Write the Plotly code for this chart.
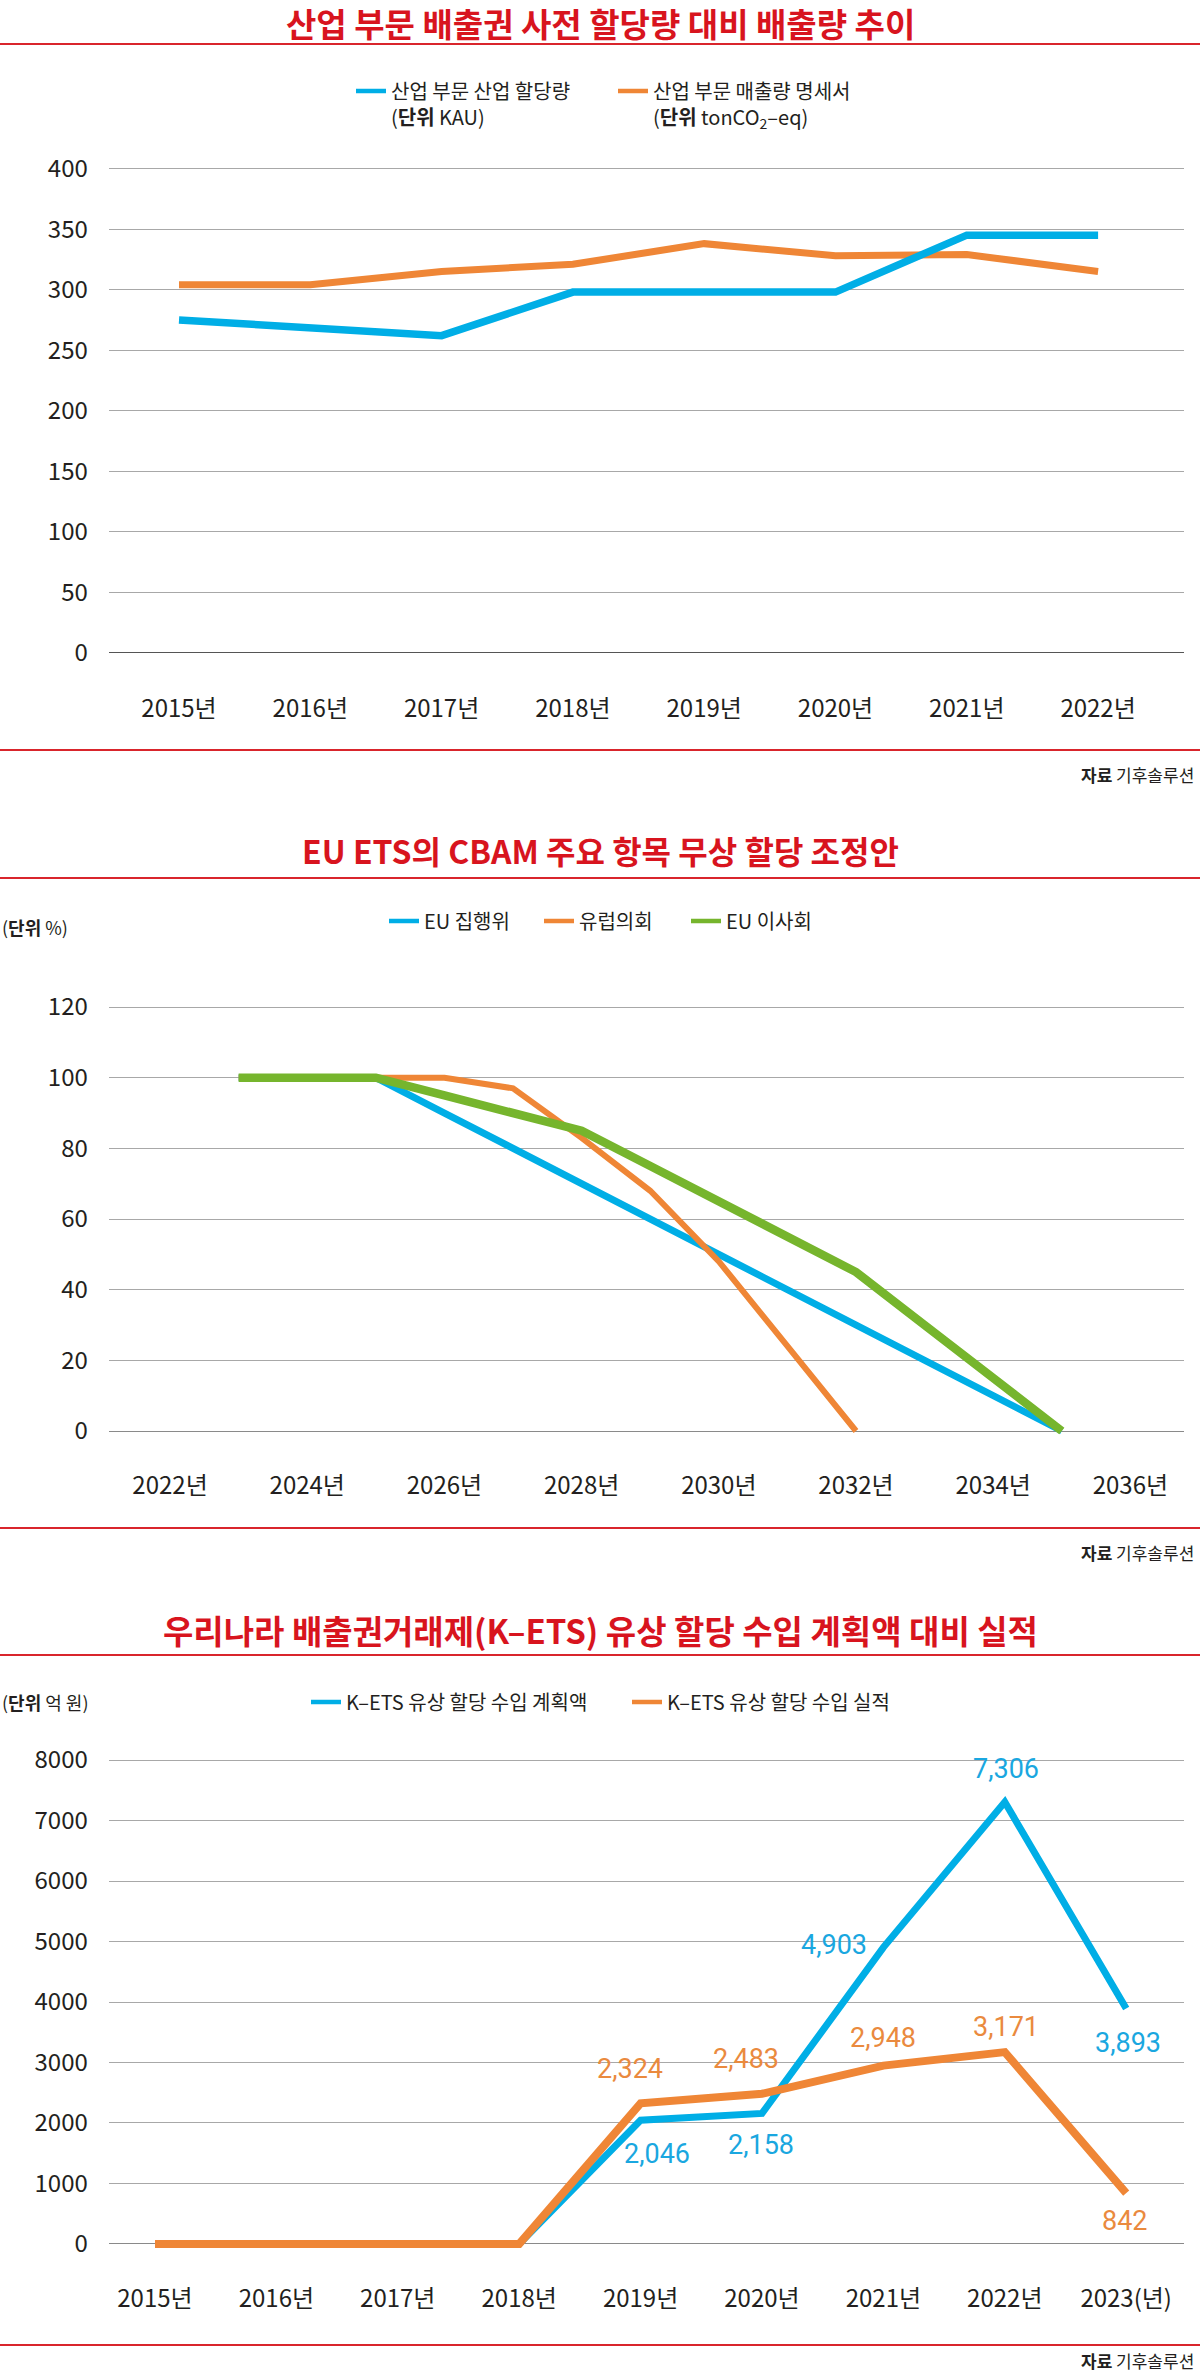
import plotly.graph_objects as go

W, H = 1200, 2374
FONT = "Noto Sans CJK KR"
TXT = "#231f20"
RED = "#d8141e"
BLUE = "#00aee6"
ORANGE = "#ef8636"
GREEN = "#76b52d"
GRID = "#a8a8a8"

# ---------------- Data ----------------
# Chart 1
years1 = [2015, 2016, 2017, 2018, 2019, 2020, 2021, 2022]
ticks1 = ["2015년", "2016년", "2017년", "2018년", "2019년", "2020년", "2021년", "2022년"]
alloc1 = [275, 268, 262, 298, 298, 298, 345, 345]
emis1 = [304, 304, 315, 321, 338, 328, 329, 315]
yticks1 = [0, 50, 100, 150, 200, 250, 300, 350, 400]
names1 = ["산업 부문 산업 할당량<br>(<b>단위</b> KAU)",
          "산업 부문 매출량 명세서<br>(<b>단위</b> tonCO<sub>2</sub>–eq)"]

# Chart 2
tickyears2 = [2022, 2024, 2026, 2028, 2030, 2032, 2034, 2036]
ticks2 = ["2022년", "2024년", "2026년", "2028년", "2030년", "2032년", "2034년", "2036년"]
years_comm = [2023, 2024, 2025, 2026, 2027, 2028, 2029, 2030, 2031, 2032, 2033, 2034, 2035]
commission = [100, 100, 100, 90, 80, 70, 60, 50, 40, 30, 20, 10, 0]
years_parl = [2023, 2024, 2025, 2026, 2027, 2028, 2029, 2030, 2031, 2032]
parliament = [100, 100, 100, 100, 97, 83, 68, 48, 24, 0]
years_coun = [2023, 2024, 2025, 2026, 2027, 2028, 2029, 2030, 2031, 2032, 2033, 2034, 2035]
council = [100, 100, 100, 95, 90, 85, 75, 65, 55, 45, 30, 15, 0]
yticks2 = [0, 20, 40, 60, 80, 100, 120]
names2 = ["EU 집행위", "유럽의회", "EU 이사회"]

# Chart 3
years3 = [2015, 2016, 2017, 2018, 2019, 2020, 2021, 2022, 2023]
ticks3 = ["2015년", "2016년", "2017년", "2018년", "2019년", "2020년", "2021년", "2022년", "2023(년)"]
plan3 = [0, 0, 0, 0, 2046, 2158, 4903, 7306, 3893]
actual3 = [0, 0, 0, 0, 2324, 2483, 2948, 3171, 842]
yticks3 = [0, 1000, 2000, 3000, 4000, 5000, 6000, 7000, 8000]
names3 = ["K–ETS 유상 할당 수입 계획액", "K–ETS 유상 할당 수입 실적"]
# label offsets (px) for value labels, from index 4 onward
plan_off = [(16, -34), (-1, -32), (-49, 2), (1, 33), (2, -35)]
act_off = [(-11, 34), (-16, 35), (0, 28), (1, 25), (-1, -28)]


def py(px):
    return 1 - px / H


def ydom(top, bot):
    return [1 - bot / H, 1 - top / H]


XDOM = [108.6 / W, 1183.5 / W]

fig = go.Figure()

# ---------- chart 1 traces ----------
fig.add_trace(go.Scatter(x=years1, y=emis1, mode="lines", line=dict(color=ORANGE, width=7),
                         showlegend=False, xaxis="x", yaxis="y", hoverinfo="skip"))
fig.add_trace(go.Scatter(x=years1, y=alloc1, mode="lines", line=dict(color=BLUE, width=7.5),
                         showlegend=False, xaxis="x", yaxis="y", hoverinfo="skip"))
for nm, col, lw in zip(names1, [BLUE, ORANGE], [217, 210]):
    fig.add_trace(go.Scatter(x=[None], y=[None], mode="lines", line=dict(color=col, width=4.5),
                             name=nm, legend="legend", xaxis="x", yaxis="y", legendwidth=lw))

# ---------- chart 2 traces ----------
fig.add_trace(go.Scatter(x=years_comm, y=commission, mode="lines", line=dict(color=BLUE, width=7),
                         showlegend=False, xaxis="x2", yaxis="y2", hoverinfo="skip"))
fig.add_trace(go.Scatter(x=years_parl, y=parliament, mode="lines", line=dict(color=ORANGE, width=6),
                         showlegend=False, xaxis="x2", yaxis="y2", hoverinfo="skip"))
fig.add_trace(go.Scatter(x=years_coun, y=council, mode="lines", line=dict(color=GREEN, width=8.5),
                         showlegend=False, xaxis="x2", yaxis="y2", hoverinfo="skip"))
for nm, col, lw in zip(names2, [BLUE, ORANGE, GREEN], [110, 102, 95]):
    fig.add_trace(go.Scatter(x=[None], y=[None], mode="lines", line=dict(color=col, width=4.5),
                             name=nm, legend="legend2", xaxis="x2", yaxis="y2", legendwidth=lw))

# ---------- chart 3 traces ----------
fig.add_trace(go.Scatter(x=years3, y=plan3, mode="lines", line=dict(color=BLUE, width=7),
                         showlegend=False, xaxis="x3", yaxis="y3", hoverinfo="skip"))
fig.add_trace(go.Scatter(x=years3, y=actual3, mode="lines", line=dict(color=ORANGE, width=8),
                         showlegend=False, xaxis="x3", yaxis="y3", hoverinfo="skip"))
for nm, col, lw in zip(names3, [BLUE, ORANGE], [276, 250]):
    fig.add_trace(go.Scatter(x=[None], y=[None], mode="lines", line=dict(color=col, width=4.5),
                             name=nm, legend="legend3", xaxis="x3", yaxis="y3", legendwidth=lw))

annotations = []
for i, (dx, dy) in enumerate(plan_off):
    k = i + 4
    annotations.append(dict(x=years3[k], y=plan3[k], xref="x3", yref="y3", text=f"{plan3[k]:,}",
                            showarrow=False, xshift=dx, yshift=dy,
                            font=dict(family="Roboto", size=27, color="#1aa7e0")))
for i, (dx, dy) in enumerate(act_off):
    k = i + 4
    annotations.append(dict(x=years3[k], y=actual3[k], xref="x3", yref="y3", text=f"{actual3[k]:,}",
                            showarrow=False, xshift=dx, yshift=dy,
                            font=dict(family="Roboto", size=27, color="#ea8a3e")))

# titles
titles = [("산업 부문 배출권 사전 할당량 대비 배출량 추이", 23, 33),
          ("EU ETS의 CBAM 주요 항목 무상 할당 조정안", 850, 32),
          ("우리나라 배출권거래제(K–ETS) 유상 할당 수입 계획액 대비 실적", 1630, 33)]
for t, ypx, fs in titles:
    annotations.append(dict(x=0.5, y=py(ypx), xref="paper", yref="paper", text=f"<b>{t}</b>",
                            showarrow=False, xanchor="center", yanchor="middle",
                            font=dict(family=FONT, size=fs, color=RED)))
# sources
for ypx in [774, 1552, 2360]:
    annotations.append(dict(x=1196 / W, y=py(ypx), xref="paper", yref="paper",
                            text="<b>자료</b> 기후솔루션", showarrow=False, xanchor="right",
                            yanchor="middle", font=dict(family=FONT, size=17, color=TXT)))
# units
for t, ypx in [("(<b>단위</b> %)", 927), ("(<b>단위</b> 억 원)", 1702)]:
    annotations.append(dict(x=0, y=py(ypx), xref="paper", yref="paper", text=t,
                            showarrow=False, xanchor="left", yanchor="middle",
                            font=dict(family=FONT, size=18, color=TXT)))

shapes = []
for ypx in [44, 750, 878, 1528, 1655, 2345]:
    shapes.append(dict(type="line", xref="paper", yref="paper", x0=0, x1=1, y0=py(ypx), y1=py(ypx),
                       line=dict(color="#d9252c", width=2.2)))

TICKF = dict(family=FONT, size=24, color=TXT)
noclr = "rgba(0,0,0,0)"


def xax(dom_range, tv, tt, ticklen, anchor):
    return dict(domain=XDOM, range=dom_range, tickvals=tv, ticktext=tt, showgrid=False,
                zeroline=False, showline=False, ticks="outside", ticklen=ticklen, tickcolor=noclr,
                tickfont=TICKF, anchor=anchor, fixedrange=True, automargin=False)


def yax(dom, rng, tv, zlc, anchor):
    return dict(domain=dom, range=rng, tickvals=tv, showgrid=True, gridcolor=GRID, gridwidth=1,
                zeroline=True, zerolinecolor=zlc, zerolinewidth=1.3, showline=False,
                ticks="outside", ticklen=15, tickcolor=noclr, tickfont=TICKF, anchor=anchor,
                fixedrange=True, automargin=False)


def legend(xpx, ypx):
    return dict(orientation="h", x=xpx / W, xanchor="left", y=py(ypx), yanchor="middle",
                font=dict(family=FONT, size=20, color=TXT), bgcolor=noclr, itemwidth=30,
                valign="top", itemclick=False, itemdoubleclick=False)


fig.update_layout(
    width=W, height=H, margin=dict(l=0, r=0, t=0, b=0, autoexpand=False),
    paper_bgcolor="white", plot_bgcolor="white",
    xaxis=xax([2014.4638, 2022.6504], years1, ticks1, 29, "y"),
    yaxis=yax(ydom(162.5, 657.8), [-4, 405], yticks1, "#555555", "x"),
    xaxis2=xax([2021.104, 2036.774], tickyears2, ticks2, 23, "y2"),
    yaxis2=yax(ydom(1000.0, 1441.6), [-3, 122], yticks2, "#8a8a8a", "x2"),
    xaxis3=xax([2014.618, 2023.472], years3, ticks3, 27, "y3"),
    yaxis3=yax(ydom(1754.0, 2250.0), [-100, 8100], yticks3, "#8a8a8a", "x3"),
    legend=legend(351, 104),
    legend2=legend(384, 921),
    legend3=legend(306, 1702),
    annotations=annotations,
    shapes=shapes,
    showlegend=True,
)

fig.write_html("out.html", config={"displayModeBar": False},
               post_script="document.body.style.margin='0px';document.body.style.overflow='hidden';")
